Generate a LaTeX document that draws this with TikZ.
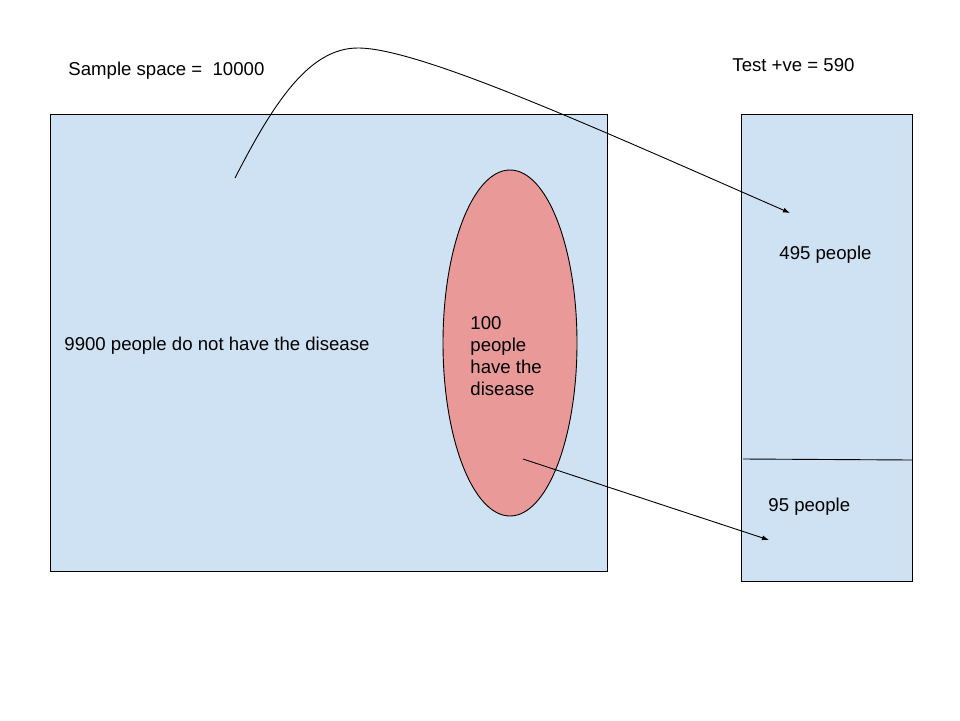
\documentclass[tikz,border=0pt]{standalone}
\usepackage{fontspec}
\setmainfont{Liberation Sans}
\usepackage{xcolor}
\usetikzlibrary{arrows.meta}
\definecolor{boxblue}{HTML}{CFE2F3}
\definecolor{sickred}{HTML}{EA9999}
\tikzset{
  label text/.style={inner sep=0pt,font=\fontsize{18.6}{22}\selectfont},
  pointer/.style={-{Latex[length=7pt,width=5pt]},line width=0.9pt}
}

\begin{document}
\begin{tikzpicture}[x=1pt,y=-1pt,line width=0.9pt]
\useasboundingbox (0,0) rectangle (960,720);
\draw[fill=boxblue] (50,114) rectangle (607,571);
\draw[fill=sickred] (510,343) ellipse (67 and 173);
\draw[fill=boxblue] (741,114) rectangle (912,581);
\draw (743,459) -- (912,460);
\node[label text,anchor=west] (space) at (68,71) {Sample space =~~10000};
\node[label text,anchor=west] (testpos) at (732,65) {Test +ve = 590};
\node[label text,anchor=west] (healthy) at (64,346) {9900 people do not have the disease};
\node[label text,anchor=west,align=left] (sick) at (470,356) {100\\people\\have the\\disease};
\node[label text,anchor=west] (truepos) at (779,255) {495 people};
\node[label text,anchor=west] (falsepos) at (768,507) {95 people};
\coordinate (healthyfrom) at (235,178);
\coordinate (peak) at (358,48);
\coordinate (healthyto) at (790,213);
\coordinate (sickfrom) at (523,459);
\coordinate (sickto) at (769,540);
\draw[pointer] (healthyfrom) .. controls (275,100) and (310,48) .. (peak)
  .. controls (420,48) and (600,130) .. (healthyto);
\draw[pointer] (sickfrom) -- (sickto);
\end{tikzpicture}
\end{document}
